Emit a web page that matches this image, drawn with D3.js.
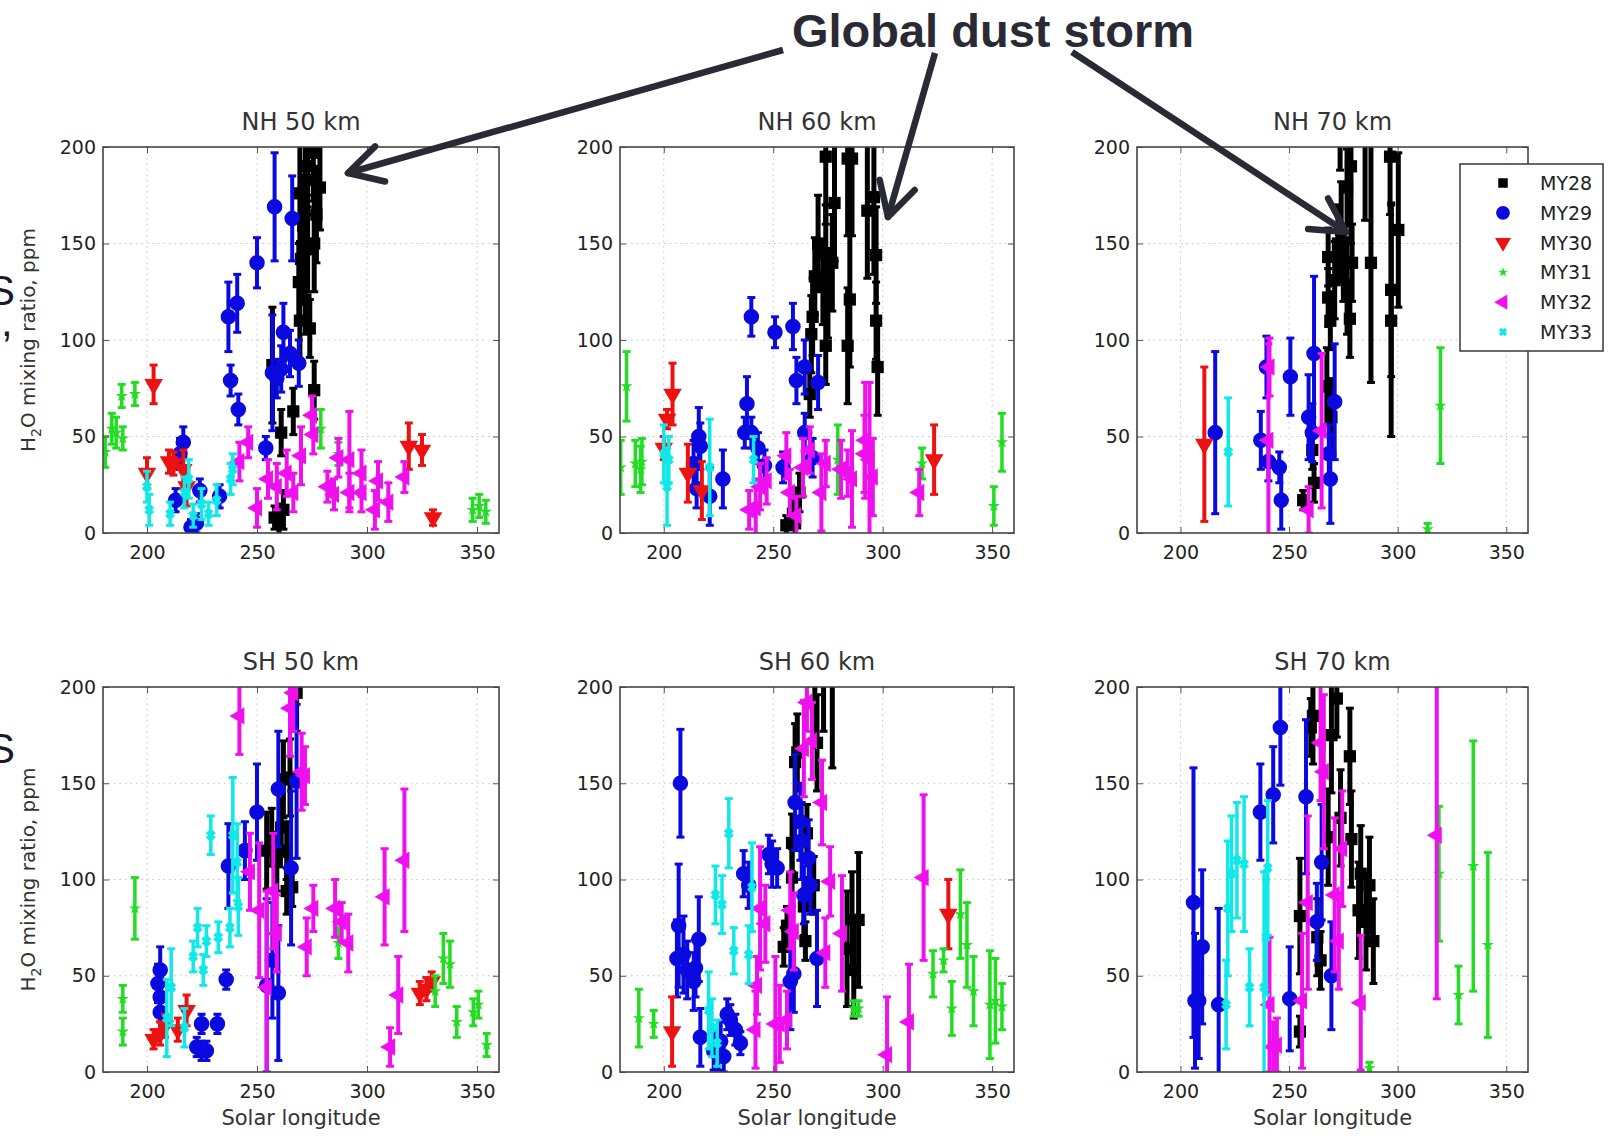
<!DOCTYPE html>
<html>
<head>
<meta charset="utf-8">
<script src="https://cdn.jsdelivr.net/npm/d3@7"></script>
<style>
	body { margin: 0; background: #fff; }
	svg { display: block; }
</style>
</head>
<body>
<div></div>
<script>
// ---- data ----
var years = ["MY28", "MY29", "MY30", "MY31", "MY32", "MY33"];
var panelTitles = ["NH 50 km", "NH 60 km", "NH 70 km", "SH 50 km", "SH 60 km", "SH 70 km"];
var xTicks = [200, 250, 300, 350];
var yTicks = [0, 50, 100, 150, 200];

// each point: [solar longitude, H2O ppm, error]
var nh50MY28 = [[257,87,30],[258,8,6],[260,7,8],[262,12,10],[261,52,12],[266.5,63,12],[276,74,15],[269.5,110,20],[274,106,15],[272,121,18],[269,130,20],[273,147,22],[276,150,25],[271,159,25],[269.5,176,25],[278.6,179,22],[273,190,25],[275.6,197,25],[272,183,30],[277,165,25],[270,142,20]];
var nh50MY29 = [[258,169,28],[266,163,22],[250,140,13],[237,112,18],[241,119,15],[238,79,8],[241.5,64,8],[254,44,6],[257,83,30],[262,104,15],[261,85,12],[265,93,12],[269,88,12],[216.5,47,8],[215,41,8],[213,17,6],[220,3,4],[224,22,6],[233,19,6],[222.5,5,5],[259,80,10]];
var nh50MY30 = [[203,77,10],[200,31,8],[210,37,6],[212,36,6],[216.5,33,10],[218,24,10],[319,45,12],[325,43,8],[330,8,4]];
var nh50MY31 = [[181,42,8],[184,54,8],[186,52,8],[189,49,6],[188.5,71,6],[194.5,72,6],[279,54,10],[287,41,6],[348,12,6],[351,14,6],[354,11,6]];
var nh50MY32 = [[246,47,8],[242,37,10],[250,13,10],[255,28,10],[259,24,12],[263.5,31,12],[266.5,21,10],[270,40,15],[275,61,10],[275.6,51,10],[282,24,8],[285,20,8],[287,39,10],[292,38,25],[292,21,10],[297.5,21,10],[303.6,12,10],[309.7,16,10],[305,27,10],[317,29,8],[297.5,31,12]];
var nh50MY33 = [[200,24,8],[201,12,8],[210.5,10,6],[217,21,8],[221,9,6],[224.8,15,8],[228,10,6],[231.7,17,8],[239,33,8],[238,28,8],[219,28,10]];

var nh60MY28 = [[274,195,35],[284,194,40],[286,194,40],[278,171,30],[293,167,35],[296,174,40],[270.5,150,25],[274,145,25],[277,140,25],[269,133,20],[272.7,128,20],[275,121,20],[297,144,25],[285,121,35],[268,112,20],[267.4,103,20],[274,97,20],[284,97,30],[297.7,86,25],[266.7,72,12],[297,110,20],[256,4,5],[259,10,8],[262,21,10],[260,5,6]];
var nh60MY29 = [[240,112,10],[250.8,104,8],[259,107,12],[238,67,14],[237,52,8],[240,52,8],[243,44,8],[246,35,8],[254.5,34,8],[260.6,79,12],[264.4,86,14],[270.5,78,14],[264.4,52,10],[268,39,10],[216,50,15],[216.7,45,12],[213.6,36,12],[227,28,15],[221,19,15],[215,23,10]];
var nh60MY30 = [[204,72,16],[200,44,6],[201.5,59,5],[211,31,15],[217.4,22,15],[323.5,38,18]];
var nh60MY31 = [[180.3,34,14],[183,76,18],[187,36,12],[189.4,33,12],[190,37,12],[279.5,38,18],[318,36,8],[350.8,14,10],[354.5,47,15]];
var nh60MY32 = [[239,12,10],[242,13,15],[244,24,12],[247,27,12],[256,40,12],[257.6,21,12],[260.6,9,10],[263.6,34,15],[266.7,43,12],[272,21,20],[274,36,12],[281,33,15],[284,31,12],[286,28,25],[292,48,30],[294,38,40],[295.5,29,20],[291.7,41,20],[316.7,21,12]];
var nh60MY33 = [[200,41,15],[202.3,38,12],[201.5,24,20],[221,34,25],[241,38,12]];

var nh70MY28 = [[269,110,15],[278,111,20],[268,122,15],[268,143,15],[272.5,150,20],[275,140,20],[279,140,20],[271,131,20],[276.7,128,25],[276.7,179,20],[274,157,25],[287.7,140,62],[297,126,45],[297,110,60],[300.3,157,40],[273.5,215,27],[278.5,190,40],[285,215,53],[296.5,195,30],[256.5,17,5],[260.7,43,10],[261.5,26,10],[267.4,76,20],[269.5,60,20]];
var nh70MY29 = [[216,52,42],[239.6,86,16],[237,48,15],[240.5,37,10],[245.5,34,8],[246.4,17,15],[250.6,81,20],[261.5,93,40],[259,60,22],[271,68,30],[269,28,23],[268.3,41,15],[260.7,52,15]];
var nh70MY30 = [[211,46,40]];
var nh70MY31 = [[319.7,66,30],[313.8,2,3]];
var nh70MY32 = [[240.5,48,50],[241,86,15],[259,12,12],[265,53,40]];
var nh70MY33 = [[222,42,28]];

var sh50MY28 = [[254.4,115,20],[256.7,122,15],[259,109,15],[261,127,15],[263.5,115,15],[263.5,94,12],[262,152,20],[266,96,10],[265,153,20],[268,197,20]];
var sh50MY29 = [[206,53,12],[205,46,10],[206,39,10],[206,31,10],[222.6,13,5],[224.8,11,5],[227,11,5],[224.8,25,5],[232,25,5],[236,48,5],[237,107,22],[244.5,115,15],[250,135,25],[259.7,147,30],[268,151,40],[265.5,106,40],[254.4,45,45],[259.7,41,35],[257,58,30]];
var sh50MY30 = [[203,17,5],[206,20,6],[208.2,24,6],[214,22,6],[218,32,8],[324,41,6],[327,43,6],[329.4,47,5]];
var sh50MY31 = [[189,38,7],[189,21,7],[194.5,85,16],[287,67,8],[331,42,8],[334.7,59,13],[337.7,56,12],[340.8,26,8],[348.3,31,7],[350.6,35,7],[354.4,14,6]];
var sh50MY32 = [[242,185,20],[246.8,104,20],[251,84,35],[254.4,44,50],[257.4,94,30],[259,72,20],[265,189,25],[266.5,197,20],[270.3,156,20],[271.8,154,15],[272.6,65,15],[275.6,85,12],[285.5,85,15],[288.5,78,10],[291.5,67,15],[308,91,25],[317,110,37],[314.2,40,20],[310.5,13,10]];
var sh50MY33 = [[209,28,20],[211,44,20],[217,23,10],[221,60,8],[223,75,10],[225.6,53,8],[227,68,8],[229,123,10],[232.4,70,8],[237.7,75,10],[239,123,30],[241,109,20],[241.5,86,15]];

var sh60MY28 = [[260,161,20],[261,166,20],[270,171,25],[258.6,119,15],[265.4,124,15],[258.6,101,15],[268.5,97,15],[264,86,15],[256.3,76,10],[264.7,68,10],[254.8,65,10],[286,79,25],[289,79,35],[283.7,64,30],[286.8,53,25],[269,215,45],[273,225,48],[277,220,62]];
var sh60MY29 = [[207.6,150,28],[206.8,76,32],[206,59,20],[209,61,20],[210.7,53,15],[213.7,47,15],[216,69,22],[214.5,54,15],[216.7,18,15],[222.8,11,10],[225,9,8],[226,16,10],[227.4,8,8],[229,30,8],[230.4,27,8],[232.7,22,8],[235,15,6],[236.5,103,12],[238.8,97,12],[248,113,10],[249.5,108,12],[251.8,106,10],[260,140,25],[262.4,130,20],[263,120,20],[264,92,15],[266.2,111,20],[267,97,15],[259.4,51,20],[257.8,47,25],[270,59,25]];
var sh60MY30 = [[203.8,21,18],[330,82,18]];
var sh60MY31 = [[188.6,28,15],[195.4,25,7],[286.8,33,4],[289,33,4],[323,51,12],[327.8,58,6],[331.6,33,14],[335.5,82,23],[338.5,66,22],[341.5,42,18],[349,35,28],[351.5,37,22],[354.5,34,12]];
var sh60MY32 = [[241.9,22,20],[242.6,45,15],[244,85,32],[246.4,77,20],[251,25,35],[253,25,20],[256.3,27,15],[257.8,84,20],[259.4,73,20],[264,168,25],[265.4,192,15],[267.7,172,20],[272.3,140,22],[276,99,18],[273.8,62,18],[281.4,72,30],[302,9,30],[312,26,30],[318.7,101,43]];
var sh60MY33 = [[220.5,32,20],[222,23,15],[224.4,15,12],[223.6,92,15],[226.6,87,15],[229.7,124,18],[232,63,12],[238.8,61,15],[240.3,96,23]];

var sh70MY28 = [[255,21,8],[255,81,30],[260,179,15],[263,70,20],[264.5,58,15],[268,122,25],[269.5,175,30],[272,194,20],[273.7,132,25],[278,164,25],[278.7,121,25],[282,84,25],[283,103,25],[285.4,78,25],[287,97,25],[288.8,68,22],[261,185,25]];
var sh70MY29 = [[206,88,70],[206.7,37,35],[208.4,37,30],[210,65,40],[217.6,35,50],[236.8,135,25],[242.7,144,25],[246,179,30],[250.3,38,27],[257.8,143,40],[265,109,30],[269.5,50,28],[262.8,78,20]];
var sh70MY30 = [];
var sh70MY31 = [[319,103,35],[328,40,15],[334.8,107,65],[341.5,66,48],[287,2,3]];
var sh70MY32 = [[318,123,85],[241,35,35],[242.7,13,13],[244.4,14,14],[256,37,35],[258.6,88,45],[264.5,171,30],[266,156,40],[271,92,40],[272.9,68,25],[274.5,116,30],[283,36,35]];
var sh70MY33 = [[221,35,23],[221.8,85,35],[223.5,103,30],[226,110,30],[229.3,108,35],[231.8,44,20],[238.5,44,60],[240.2,106,35],[239.4,70,30]];

var panelSeries = [
	[nh50MY28, nh50MY29, nh50MY30, nh50MY31, nh50MY32, nh50MY33],
	[nh60MY28, nh60MY29, nh60MY30, nh60MY31, nh60MY32, nh60MY33],
	[nh70MY28, nh70MY29, nh70MY30, nh70MY31, nh70MY32, nh70MY33],
	[sh50MY28, sh50MY29, sh50MY30, sh50MY31, sh50MY32, sh50MY33],
	[sh60MY28, sh60MY29, sh60MY30, sh60MY31, sh60MY32, sh60MY33],
	[sh70MY28, sh70MY29, sh70MY30, sh70MY31, sh70MY32, sh70MY33]
];

// ---- styles ----
var yearColors = ["#000000", "#0a0ae0", "#ee1111", "#22dd22", "#ee11ee", "#11e8e8"];
var symbolTypes = [d3.symbolSquare, d3.symbolCircle, d3.symbolTriangle, d3.symbolStar, d3.symbolTriangle, d3.symbolCross];
var symbolSizes = [150, 190, 150, 45, 130, 45];
var symbolRotate = [0, 0, 180, 0, -90, 45];
var barWidths = [5, 4, 4, 3.5, 4, 3.5];

var colX = [[103, 499], [620, 1014], [1137, 1528]];
var rowY = [[147, 533], [687, 1072]];
var axisFont = "DejaVu Sans, Arial, sans-serif";

var svg = d3.select("body").select("div").append("svg")
	.attr("width", 1614)
	.attr("height", 1138)
	.style("font-family", axisFont);

function drawPanel(series, i) {
	var c = i % 3, r = Math.floor(i / 3);
	var x = d3.scaleLinear().domain([180, 360]).range(colX[c]);
	var y = d3.scaleLinear().domain([0, 200]).range([rowY[r][1], rowY[r][0]]);
	var x0 = colX[c][0], x1 = colX[c][1], y0 = rowY[r][0], y1 = rowY[r][1];

	var g = svg.append('g');

	svg.append('clipPath').attr('id', 'clip' + i)
		.append('rect')
		.attr('x', x0).attr('y', y0)
		.attr('width', x1 - x0).attr('height', y1 - y0);

	//dotted grid
	g.selectAll('.vg').data(xTicks).enter().append('line')
		.attr('x1', function(d) { return x(d); })
		.attr('x2', function(d) { return x(d); })
		.attr('y1', y0).attr('y2', y1)
		.attr('stroke', '#c4c4c4').attr('stroke-width', 1)
		.attr('stroke-dasharray', '1.5,4');
	g.selectAll('.hg').data(yTicks.slice(1, 4)).enter().append('line')
		.attr('y1', function(d) { return y(d); })
		.attr('y2', function(d) { return y(d); })
		.attr('x1', x0).attr('x2', x1)
		.attr('stroke', '#c4c4c4').attr('stroke-width', 1)
		.attr('stroke-dasharray', '1.5,4');

	//points with error bars, clipped to the frame
	var pg = g.append('g').attr('clip-path', 'url(#clip' + i + ')');
	series.forEach(function(pts, k) {
		var sg = pg.append('g');
		var bars = sg.selectAll('.eb').data(pts).enter().append('g');
		bars.append('line')
			.attr('x1', function(d) { return x(d[0]); })
			.attr('x2', function(d) { return x(d[0]); })
			.attr('y1', function(d) { return y(d[1] - d[2]); })
			.attr('y2', function(d) { return y(d[1] + d[2]); })
			.attr('stroke', yearColors[k]).attr('stroke-width', barWidths[k]);
		[-1, 1].forEach(function(s) {
			bars.append('line')
				.attr('x1', function(d) { return x(d[0]) - 4; })
				.attr('x2', function(d) { return x(d[0]) + 4; })
				.attr('y1', function(d) { return y(d[1] + s * d[2]); })
				.attr('y2', function(d) { return y(d[1] + s * d[2]); })
				.attr('stroke', yearColors[k]).attr('stroke-width', 3);
		});
		sg.selectAll('.mk').data(pts).enter().append('path')
			.attr('d', d3.symbol().type(symbolTypes[k]).size(symbolSizes[k]))
			.attr('transform', function(d) {
				return 'translate(' + x(d[0]) + ',' + y(d[1]) + ') rotate(' + symbolRotate[k] + ')';
			})
			.attr('fill', yearColors[k])
			.attr('stroke', k == 5 ? yearColors[k] : 'none')
			.attr('stroke-width', 1);
	});

	//axes with inward ticks
	g.append('g').attr('transform', 'translate(0,' + y1 + ')')
		.call(d3.axisBottom(x).tickValues(xTicks).tickSizeInner(-6).tickSizeOuter(0).tickPadding(13));
	g.append('g').attr('transform', 'translate(0,' + y0 + ')')
		.call(d3.axisTop(x).tickValues(xTicks).tickSizeInner(-6).tickSizeOuter(0).tickFormat(''));
	g.append('g').attr('transform', 'translate(' + x0 + ',0)')
		.call(d3.axisLeft(y).tickValues(yTicks).tickSizeInner(-6).tickSizeOuter(0).tickPadding(7));
	g.append('g').attr('transform', 'translate(' + x1 + ',0)')
		.call(d3.axisRight(y).tickValues(yTicks).tickSizeInner(-6).tickSizeOuter(0).tickFormat(''));
	g.selectAll('.domain').remove();
	g.selectAll('.tick line').attr('stroke', '#555');
	g.selectAll('.tick text')
		.style('font-family', axisFont)
		.style('font-size', '19px')
		.attr('fill', '#222');

	g.append('rect')
		.attr('x', x0).attr('y', y0)
		.attr('width', x1 - x0).attr('height', y1 - y0)
		.attr('fill', 'none').attr('stroke', '#444').attr('stroke-width', 1.6);

	g.append('text')
		.attr('x', (x0 + x1) / 2).attr('y', y0 - 17)
		.attr('text-anchor', 'middle')
		.style('font-size', '24px').attr('fill', '#333')
		.text(panelTitles[i]);

	if (r == 1) {
		g.append('text')
			.attr('x', (x0 + x1) / 2).attr('y', y1 + 53)
			.attr('text-anchor', 'middle')
			.style('font-size', '21px').attr('fill', '#333')
			.text('Solar longitude');
	}
	if (c == 0) {
		var yl = g.append('text')
			.attr('transform', 'translate(35,' + (y0 + y1) / 2 + ') rotate(-90)')
			.attr('text-anchor', 'middle')
			.style('font-size', '20px').attr('fill', '#333');
		yl.append('tspan').text('H');
		yl.append('tspan').attr('dy', 6).style('font-size', '14px').text('2');
		yl.append('tspan').attr('dy', -6).text('O mixing ratio, ppm');
	}
}

panelSeries.forEach(drawPanel);

//legend in the NH 70 km panel
var legendGroup = svg.append('g');
legendGroup.append('rect')
	.attr('x', 1460).attr('y', 164)
	.attr('width', 143).attr('height', 187)
	.attr('fill', '#fff').attr('stroke', '#444').attr('stroke-width', 1.6);
var legendSizes = [90, 150, 110, 30, 100, 30];
years.forEach(function(name, k) {
	var ly = 183 + k * 29.8;
	legendGroup.append('path')
		.attr('d', d3.symbol().type(symbolTypes[k]).size(legendSizes[k]))
		.attr('transform', 'translate(1503,' + ly + ') rotate(' + symbolRotate[k] + ')')
		.attr('fill', yearColors[k])
		.attr('stroke', k == 5 ? yearColors[k] : 'none');
	legendGroup.append('text')
		.attr('x', 1540).attr('y', ly + 7)
		.style('font-size', '19px').attr('fill', '#222')
		.text(name);
});

//annotation: arrows and title
var arrows = [[783, 50, 348, 173], [935, 53, 888, 217], [1072, 52, 1346, 232]];
var annGroup = svg.append('g');
arrows.forEach(function(a) {
	annGroup.append('line')
		.attr('x1', a[0]).attr('y1', a[1]).attr('x2', a[2]).attr('y2', a[3])
		.attr('stroke', '#2a2a35').attr('stroke-width', 6.5);
	var ang = Math.atan2(a[1] - a[3], a[0] - a[2]);
	[-0.5, 0.5].forEach(function(s) {
		annGroup.append('line')
			.attr('x1', a[2]).attr('y1', a[3])
			.attr('x2', a[2] + 38 * Math.cos(ang + s))
			.attr('y2', a[3] + 38 * Math.sin(ang + s))
			.attr('stroke', '#2a2a35').attr('stroke-width', 6.5)
			.attr('stroke-linecap', 'round');
	});
});
annGroup.append('text')
	.attr('x', 993).attr('y', 47)
	.attr('text-anchor', 'middle')
	.style('font-family', 'Liberation Sans, Arial, sans-serif')
	.style('font-weight', 'bold').style('font-size', '47px')
	.attr('fill', '#2a2a35')
	.text('Global dust storm');

//cut-off text at the left edge
var edge = svg.append('g').style('font-family', 'Liberation Sans, Arial, sans-serif')
	.style('font-size', '42px').attr('fill', '#1a1a2a');
var edgeTop = edge.append('text').attr('x', -13).attr('y', 305);
edgeTop.append('tspan').text('S');
edgeTop.append('tspan').attr('x', 1).attr('dy', 31).text(',');
edge.append('text').attr('x', -13).attr('y', 763).text('S');
</script>
</body>
</html>
